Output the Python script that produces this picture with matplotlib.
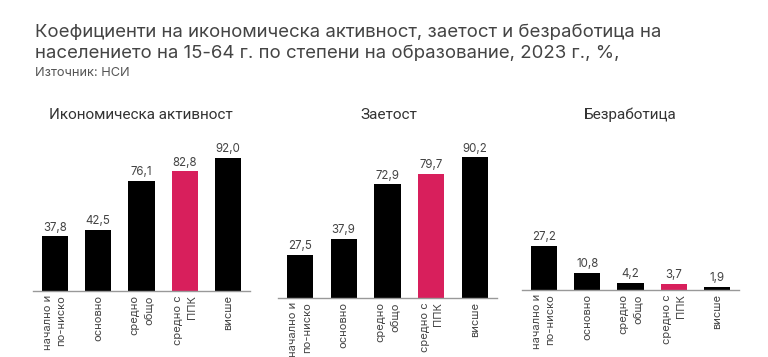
import numpy as np
import matplotlib
matplotlib.use("Agg")
import matplotlib.pyplot as plt

plt.rcParams['font.family'] = ['Inter', 'DejaVu Sans']

# categories (education level)
categories = ["начално и\nпо-ниско", "основно", "средно\nобщо", "средно с\nППК", "висше"]
activity = [37.8, 42.5, 76.1, 82.8, 92.0]
employment = [27.5, 37.9, 72.9, 79.7, 90.2]
unemployment = [27.2, 10.8, 4.2, 3.7, 1.9]
panel_titles = ["Икономическа активност", "Заетост", "Безработица"]

title_lines = ["Коефициенти на икономическа активност, заетост и безработица на",
               "населението на 15-64 г. по степени на образование, 2023 г., %,"]
source = "Източник: НСИ"

black = "#000000"
pink = "#D81F5C"
colors = [black, black, black, pink, black]

fig = plt.figure(figsize=(7.68, 3.57), dpi=100)

# [left, bottom, width, height], ylim top
panels = [
    ([33/768, 66/357, 217/768, 141/357], 97.6, activity, 141),
    ([278/768, 59/357, 219/768, 148/357], 94.9, employment, 389),
    ([522/768, 67/357, 217/768, 140/357], 86.4, unemployment, 630),
]

for (rect, ytop, vals, tx), ptitle in zip(panels, panel_titles):
    ax = fig.add_axes(rect)
    x = np.arange(len(categories))
    ax.bar(x, vals, width=0.6, color=colors)
    for xi, v in zip(x, vals):
        ax.annotate(f"{v:.1f}".replace(".", ","), (xi, v), xytext=(0, 2),
                    textcoords="offset points", ha="center", va="bottom",
                    fontsize=8.3, color="#444444")
    ax.set_xlim(-0.5, len(categories) - 0.5)
    ax.set_ylim(0, ytop)
    ax.set_yticks([])
    ax.set_xticks(x)
    ax.set_xticklabels(categories, rotation=90, ha="center", va="top",
                       multialignment="right", fontsize=8, color="#444444",
                       linespacing=1.45)
    ax.tick_params(axis="x", length=0, pad=3)
    for s in ["top", "right", "left"]:
        ax.spines[s].set_visible(False)
    ax.spines["bottom"].set_color("#999999")
    ax.spines["bottom"].set_linewidth(1)
    fig.text(tx/768, 1 - 115/357, ptitle, ha="center", va="center",
             fontsize=11, color="#333333", family=["Roboto", "DejaVu Sans"])

for line, yb in zip(title_lines, [37, 58]):
    fig.text(35/768, 1 - yb/357, line, ha="left", va="baseline", fontsize=13.4,
             color="#444444")
fig.text(35/768, 1 - 76/357, source, ha="left", va="baseline", fontsize=9.2,
         color="#555555")

fig.savefig("out.png", dpi=100, facecolor="white")
